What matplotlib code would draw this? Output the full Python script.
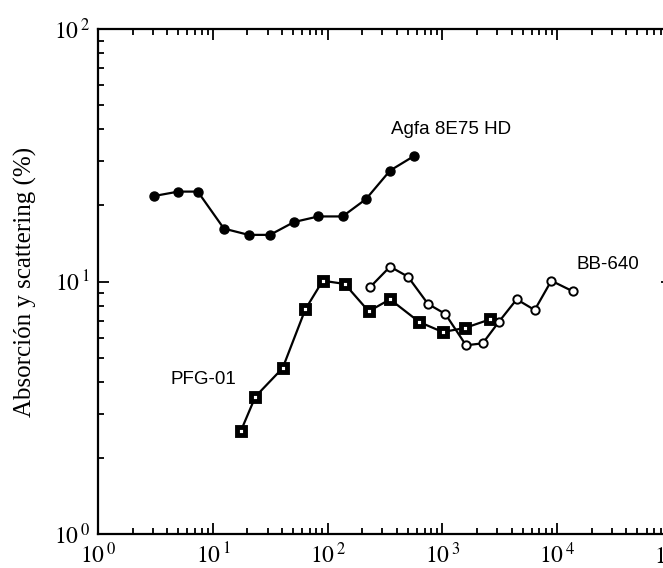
import matplotlib
matplotlib.use("Agg")
import matplotlib.pyplot as plt
from matplotlib.ticker import LogLocator, NullFormatter

plt.rcParams['mathtext.fontset'] = 'stix'
plt.rcParams['font.family'] = ['Liberation Serif', 'DejaVu Serif']

# datos
agfa_x = [3.07, 5.0, 7.4, 12.5, 20.5, 31.5, 51, 83, 135, 216, 350, 566]
agfa_y = [21.8, 22.7, 22.7, 16.2, 15.3, 15.3, 17.2, 18.1, 18.1, 21.2, 27.5, 31.4]

pfg_x = [17.5, 23.5, 40.6, 64, 90.7, 141, 228, 350, 629, 1005, 1563, 2600]
pfg_y = [2.55, 3.50, 4.54, 7.76, 10.07, 9.78, 7.62, 8.50, 6.91, 6.31, 6.54, 7.08]

bb_x = [234, 350, 501, 749, 1060, 1606, 2245, 3093, 4437, 6368, 8889, 13640]
bb_y = [9.49, 11.45, 10.45, 8.15, 7.44, 5.59, 5.69, 6.91, 8.50, 7.71, 10.07, 9.15]

fig = plt.figure(figsize=(6.63, 5.68), dpi=100)
ax = fig.add_axes([98 / 663, 34 / 568, 574 / 663, 505 / 568])

ax.plot(agfa_x, agfa_y, '-o', color='black', lw=1.6, ms=6.5, mfc='black')
ax.plot(pfg_x, pfg_y, '-s', color='black', lw=1.6, ms=5.5, mfc='white', mew=3.5)
ax.plot(bb_x, bb_y, '-o', color='black', lw=1.6, ms=6, mfc='white', mew=1.4)

ax.set_xscale('log')
ax.set_yscale('log')
ax.set_xlim(1, 1e5)
ax.set_ylim(1, 100)

ax.xaxis.set_minor_locator(LogLocator(base=10, subs=range(2, 10), numticks=20))
ax.yaxis.set_minor_locator(LogLocator(base=10, subs=range(2, 10), numticks=20))
ax.xaxis.set_minor_formatter(NullFormatter())
ax.yaxis.set_minor_formatter(NullFormatter())
ax.set_xticks([1, 10, 100, 1000, 1e4, 1e5])
ax.set_xticklabels([r'$10^{\,0}$', r'$10^{\,1}$', r'$10^{\,2}$', r'$10^{\,3}$', r'$10^{\,4}$', r'$10^{\,5}$'])
ax.set_yticks([1, 10, 100])
ax.set_yticklabels([r'$10^{\,0}$', r'$10^{\,1}$', r'$10^{\,2}$'])

ax.tick_params(which='both', direction='in', top=True, right=True, width=1.3, labelsize=17)
ax.tick_params(which='major', length=8)
ax.tick_params(which='minor', length=4.5)
ax.tick_params(axis='x', which='major', pad=6)
ax.tick_params(axis='y', which='major', pad=6)
for s in ax.spines.values():
    s.set_linewidth(1.6)

ax.set_ylabel('Absorción y scattering (%)', fontsize=18, labelpad=12)

sans = ['Liberation Sans', 'DejaVu Sans']
ax.text(355, 40, 'Agfa 8E75 HD', family=sans, fontsize=13.5, ha='left', va='center')
ax.text(14800, 11.7, 'BB-640', family=sans, fontsize=13.5, ha='left', va='center')
ax.text(4.3, 4.1, 'PFG-01', family=sans, fontsize=13.5, ha='left', va='center')

fig.savefig('out.png', dpi=100)
